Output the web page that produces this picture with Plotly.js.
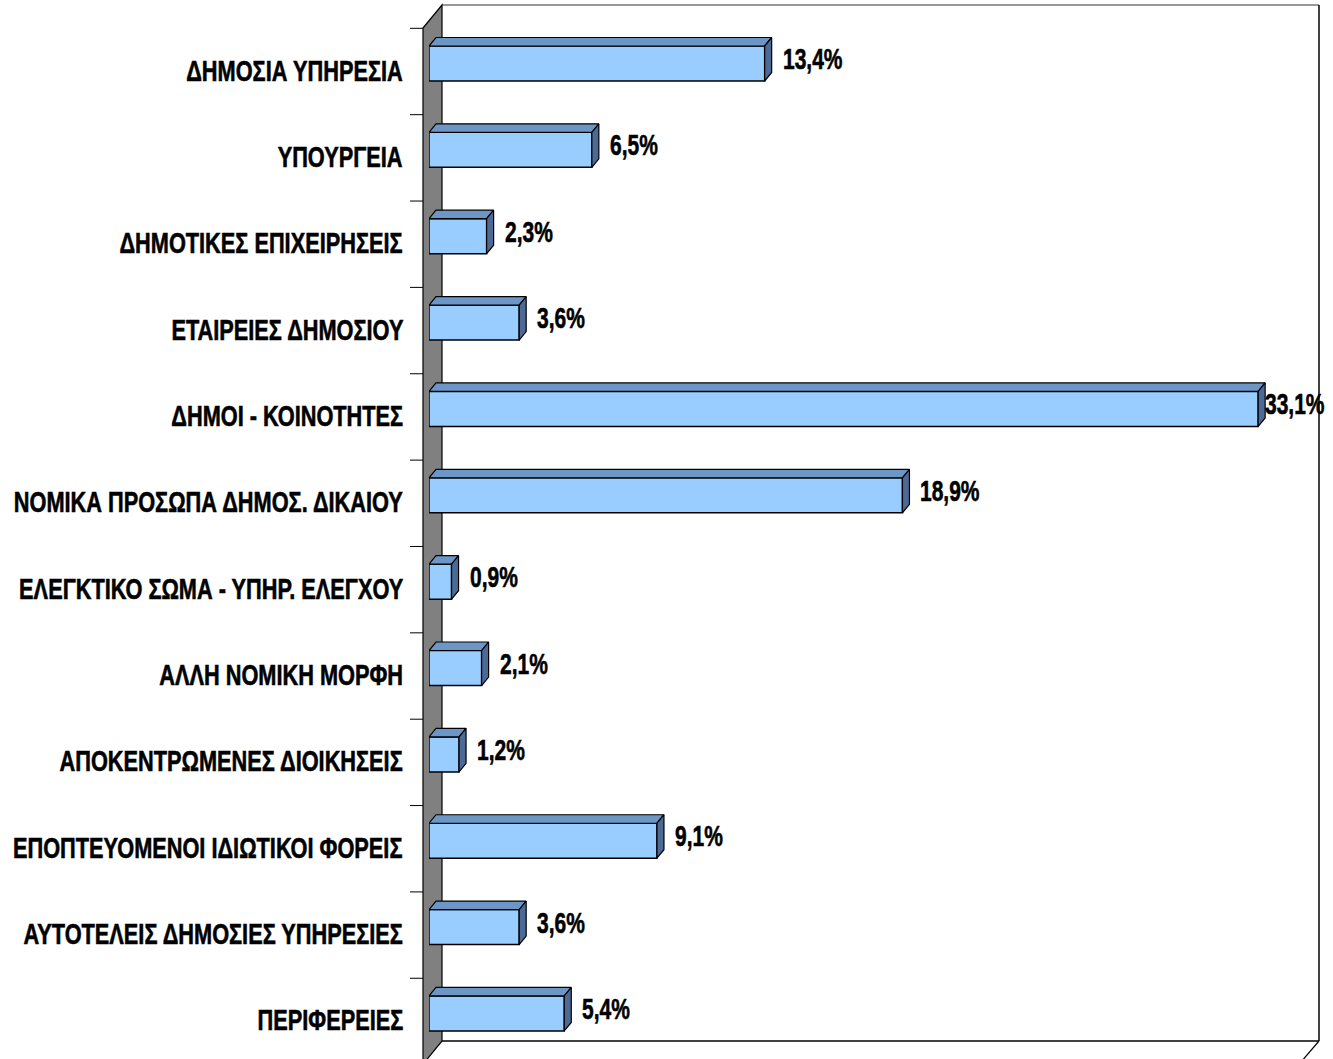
<!DOCTYPE html>
<html>
<head>
<meta charset="utf-8">
<script src="https://cdn.plot.ly/plotly-3.0.1.min.js"></script>
<style>
html,body{margin:0;padding:0;background:#fff;}
#chart{width:1333px;height:1059px;}
#chart text.annotation-text{stroke:#000;stroke-width:0.6px;}
</style>
</head>
<body>
<div id="chart"></div>
<script>
// ---- data ----
const categories = [
  "ΔΗΜΟΣΙΑ ΥΠΗΡΕΣΙΑ",
  "ΥΠΟΥΡΓΕΙΑ",
  "ΔΗΜΟΤΙΚΕΣ ΕΠΙΧΕΙΡΗΣΕΙΣ",
  "ΕΤΑΙΡΕΙΕΣ ΔΗΜΟΣΙΟΥ",
  "ΔΗΜΟΙ - ΚΟΙΝΟΤΗΤΕΣ",
  "ΝΟΜΙΚΑ ΠΡΟΣΩΠΑ ΔΗΜΟΣ. ΔΙΚΑΙΟΥ",
  "ΕΛΕΓΚΤΙΚΟ ΣΩΜΑ - ΥΠΗΡ. ΕΛΕΓΧΟΥ",
  "ΑΛΛΗ ΝΟΜΙΚΗ ΜΟΡΦΗ",
  "ΑΠΟΚΕΝΤΡΩΜΕΝΕΣ ΔΙΟΙΚΗΣΕΙΣ",
  "ΕΠΟΠΤΕΥΟΜΕΝΟΙ ΙΔΙΩΤΙΚΟΙ ΦΟΡΕΙΣ",
  "ΑΥΤΟΤΕΛΕΙΣ ΔΗΜΟΣΙΕΣ ΥΠΗΡΕΣΙΕΣ",
  "ΠΕΡΙΦΕΡΕΙΕΣ"
];
const values = [13.4, 6.5, 2.3, 3.6, 33.1, 18.9, 0.9, 2.1, 1.2, 9.1, 3.6, 5.4];
const valueLabels = ["13,4%", "6,5%", "2,3%", "3,6%", "33,1%", "18,9%", "0,9%", "2,1%", "1,2%", "9,1%", "3,6%", "5,4%"];

// ---- layout geometry (pixels) ----
const W = 1333, H = 1059;
const FONT = '"Liberation Sans", Arial, sans-serif';
const LABEL_SX = 0.75, VALUE_SX = 0.70;   // horizontal condensing of the text
const x0px = 429, pxPerUnit = 25.05, xMax = 35;
const catPx = 86.36, plotTop = 20.32;
const n = categories.length;
const barPx = 35;
const barW = barPx / catPx;
const depthX = 7 / pxPerUnit;   // bar depth in data units
const depthY = 8.5 / catPx;
const px = x => x / W;
const py = y => 1 - y / H;

const idx = categories.map((_, i) => i);

// top faces and side faces (built from the values)
const topX = [], topY = [], sideX = [], sideY = [];
values.forEach((v, i) => {
  const yt = i - barW / 2, yb = i + barW / 2;
  topX.push(0, v, v + depthX, depthX, 0, null);
  topY.push(yt, yt, yt - depthY, yt - depthY, yt, null);
  sideX.push(v, v + depthX, v + depthX, v, v, null);
  sideY.push(yt, yt - depthY, yb - depthY, yb, yt, null);
});

const traces = [
  {
    type: 'bar', orientation: 'h', x: values, y: idx, width: barW,
    marker: {color: '#99CCFF', line: {color: '#000000', width: 1.5}},
    hoverinfo: 'skip'
  },
  {
    type: 'scatter', mode: 'lines', x: topX, y: topY, fill: 'toself',
    fillcolor: '#6B96C6', line: {color: '#000000', width: 1.2}, hoverinfo: 'skip'
  },
  {
    type: 'scatter', mode: 'lines', x: sideX, y: sideY, fill: 'toself',
    fillcolor: '#4D6A96', line: {color: '#000000', width: 1.2}, hoverinfo: 'skip'
  }
];

// decorations: walls, ticks
const shapes = [];
function poly(pts, fill, lineColor, lw, layer) {
  const d = pts.map((p, k) => (k ? 'L' : 'M') + px(p[0]) + ',' + py(p[1])).join(' ') + ' Z';
  shapes.push({type: 'path', xref: 'paper', yref: 'paper', path: d, fillcolor: fill,
    line: {color: lineColor, width: lw}, layer: layer || 'below'});
}
function line(x1, y1, x2, y2, color, lw, layer) {
  shapes.push({type: 'line', xref: 'paper', yref: 'paper', x0: px(x1), y0: py(y1), x1: px(x2), y1: py(y2),
    line: {color: color, width: lw}, layer: layer || 'below'});
}
// back wall
poly([[442, 5], [1319, 5], [1319, 1041], [442, 1041]], '#FFFFFF', 'rgba(0,0,0,0)', 0);
line(442, 5, 1319, 5, '#777777', 1.5);
line(1319, 5, 1319, 1041, '#000000', 1.5);
line(442, 1041, 1319, 1041, '#000000', 1.5);
line(1319, 1041, 1301, 1062, '#000000', 1.2);
// left grey slab
poly([[423, 28], [442, 5], [442, 1041], [424, 1063], [423, 1063]], '#808080', '#000000', 1.2);
// ticks
for (let k = 0; k < n; k++) {
  const y = plotTop + k * catPx + 8;
  line(410, y, 423, y, '#000000', 1, 'above');
}

// annotations: category labels and value labels
const annotations = [];
categories.forEach((c, i) => {
  annotations.push({
    xref: 'paper', yref: 'y', x: px(405), y: i, xanchor: 'right', yanchor: 'middle',
    yshift: -7, text: '<b>' + c + '</b>', showarrow: false,
    font: {family: FONT, size: 29, color: '#000000'}
  });
});
values.forEach((v, i) => {
  const frontRight = x0px + v * pxPerUnit;
  const lblW = 62;
  const shift = Math.min(16, (W - 8) - lblW - frontRight);
  annotations.push({
    xref: 'x', yref: 'y', x: v, y: i, xanchor: 'left', yanchor: 'middle',
    xshift: shift, yshift: 5, text: '<b>' + valueLabels[i] + '</b>', showarrow: false,
    font: {family: FONT, size: 30, color: '#000000'}
  });
});

const layout = {
  width: W, height: H,
  margin: {l: 0, r: 0, t: 0, b: 0},
  paper_bgcolor: '#FFFFFF', plot_bgcolor: 'rgba(0,0,0,0)',
  showlegend: false,
  xaxis: {
    domain: [px(x0px), px(x0px + xMax * pxPerUnit)], range: [0, xMax],
    showgrid: false, zeroline: false, showticklabels: false, ticks: '', showline: false
  },
  yaxis: {
    domain: [py(plotTop + n * catPx), py(plotTop)], range: [n - 0.5, -0.5],
    showgrid: false, zeroline: false, showticklabels: false, ticks: '', showline: false
  },
  shapes: shapes,
  annotations: annotations
};

// condense annotation text horizontally (narrow typeface look), anchored at its aligned edge
function condense() {
  const groups = document.querySelectorAll('#chart .annotation');
  groups.forEach((g, k) => {
    const t = g.querySelector('text.annotation-text');
    if (!t) return;
    const isLabel = k < n;
    const sx = isLabel ? LABEL_SX : VALUE_SX;
    const bb = t.getBBox();
    const ax = isLabel ? bb.x + bb.width : bb.x;
    const prev = t.getAttribute('data-orig-transform') || t.getAttribute('transform') || '';
    t.setAttribute('data-orig-transform', prev);
    t.setAttribute('transform', `translate(${ax},0) scale(${sx},1) translate(${-ax},0) ${prev}`);
  });
}

Plotly.newPlot('chart', traces, layout, {staticPlot: true, displayModeBar: false}).then(condense);
</script>
</body>
</html>
